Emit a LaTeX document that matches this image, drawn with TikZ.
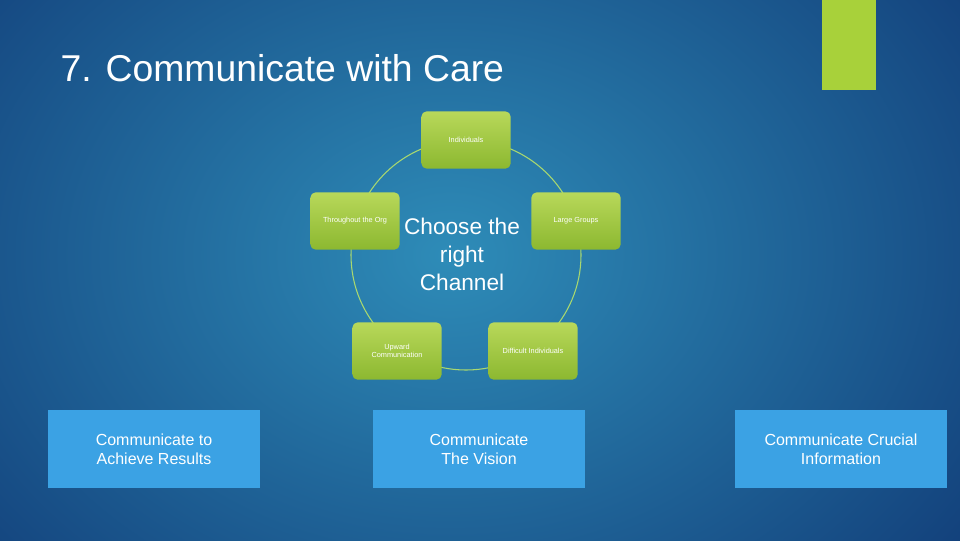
\documentclass[tikz,border=0pt]{standalone}
\usepackage{fontspec}
\setmainfont{Liberation Sans}
\begin{document}
\begin{tikzpicture}[x=0.75pt,y=-0.75pt,
  gbox/.style={draw=none,rounded corners=4pt,minimum width=67pt,minimum height=43pt,
    top color=gtop,bottom color=gbot,text=white,font=\fontsize{5.5}{6.5}\selectfont,align=center},
  bbox/.style={fill=bblue,minimum width=159pt,minimum height=58pt,text=white,
    font=\fontsize{12}{14}\selectfont,align=center},
  ring/.style={draw=ringc,line width=0.8pt}]
\definecolor{gtop}{HTML}{B8D85A}
\definecolor{gbot}{HTML}{8CB830}
\definecolor{bblue}{HTML}{3BA2E4}
\definecolor{ringc}{HTML}{A8D870}
\definecolor{bgin}{HTML}{2E8CB8}
\definecolor{bgout}{HTML}{123F7A}
\definecolor{lime}{HTML}{A8D13A}
\useasboundingbox (0,0) rectangle (960,540);
\begin{scope}
\clip (0,0) rectangle (960,540);
\shade[inner color=bgin,outer color=bgout] (-200,-250) rectangle (1100,760);
\end{scope}
\fill[lime] (822,0) rectangle (876,90);
\node[anchor=west,text=white,font=\fontsize{28}{32}\selectfont] (title) at (56,68) {7. Communicate with Care};
\draw[ring] (466,255) circle (115);
\node[gbox] (n1) at (466,140) {Individuals};
\node[gbox] (n2) at (576,221) {Large Groups};
\node[gbox] (n3) at (533,351) {Difficult Individuals};
\node[gbox] (n4) at (397,351) {Upward\\Communication};
\node[gbox] (n5) at (355,221) {Throughout the Org};
\node[text=white,font=\fontsize{17}{21}\selectfont,align=center] (c) at (462,254) {Choose the\\right\\Channel};
\node[bbox] (b1) at (154,449) {Communicate to\\Achieve Results};
\node[bbox] (b2) at (479,449) {Communicate\\The Vision};
\node[bbox] (b3) at (841,449) {Communicate Crucial\\Information};
\end{tikzpicture}
\end{document}
